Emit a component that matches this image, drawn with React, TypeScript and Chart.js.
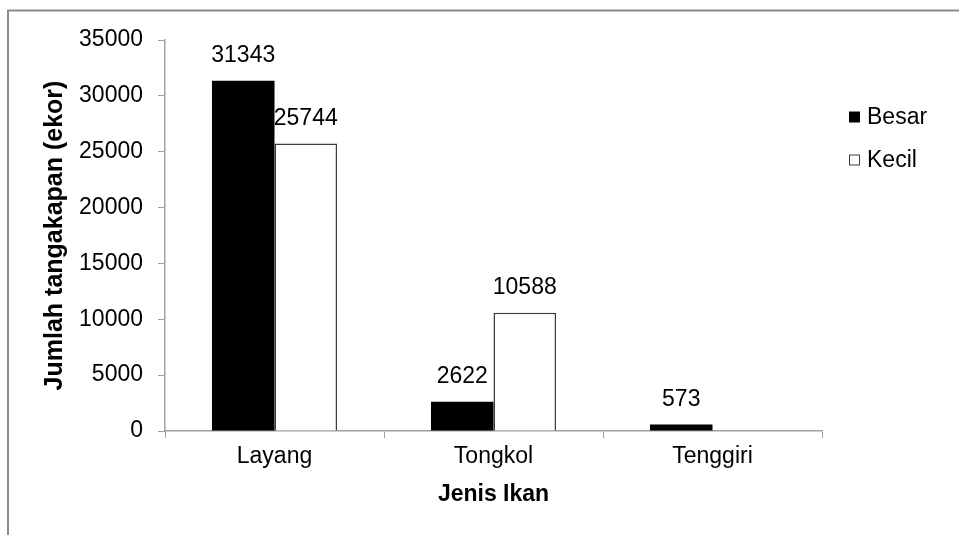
import React, { useEffect, useRef } from "react";
import { Chart, registerables } from "chart.js";

Chart.register(...registerables);

const categories = ["Layang", "Tongkol", "Tenggiri"];
const besarValues: (number | null)[] = [31343, 2622, 573];
const kecilValues: (number | null)[] = [25744, 10588, null];
const seriesNames = ["Besar", "Kecil"];
const yTicks = { min: 0, max: 35000, step: 5000 };

const FONT = "'Liberation Sans', Arial, sans-serif";

const framePlugin = {
  id: "frame",
  beforeDraw(chart: any) {
    const ctx = chart.ctx;
    ctx.save();
    ctx.fillStyle = "#ffffff";
    ctx.fillRect(0, 0, chart.width, chart.height);
    ctx.strokeStyle = "#8a8a8a";
    ctx.lineWidth = 2;
    ctx.beginPath();
    ctx.moveTo(chart.width, 10.5);
    ctx.lineTo(8, 10.5);
    ctx.lineTo(8, chart.height);
    ctx.stroke();
    ctx.restore();
  },
};

const valueLabelPlugin = {
  id: "valueLabels",
  afterDatasetsDraw(chart: any) {
    const ctx = chart.ctx;
    ctx.save();
    ctx.font = `23px ${FONT}`;
    ctx.fillStyle = "#000";
    ctx.textAlign = "center";
    ctx.textBaseline = "middle";
    chart.data.datasets.forEach((ds: any, i: number) => {
      const meta = chart.getDatasetMeta(i);
      meta.data.forEach((el: any, j: number) => {
        const v = ds.data[j];
        if (v === null || v === undefined) return;
        ctx.fillText(String(v), el.x, el.y - 25);
      });
    });
    ctx.restore();
  },
};

const legendPlugin = {
  id: "customLegend",
  afterDraw(chart: any) {
    const ctx = chart.ctx;
    const x = chart.chartArea.right + 27;
    const ys = [117, 160];
    ctx.save();
    ctx.font = `23px ${FONT}`;
    ctx.textBaseline = "middle";
    ctx.textAlign = "left";
    chart.data.datasets.forEach((ds: any, i: number) => {
      const y = ys[i];
      ctx.fillStyle = ds.backgroundColor;
      ctx.fillRect(x, y - 5.5, 11, 11);
      if (ds.borderWidth) {
        ctx.strokeStyle = ds.borderColor;
        ctx.lineWidth = 1;
        ctx.strokeRect(x + 0.5, y - 5, 10, 10);
      }
      ctx.fillStyle = "#000";
      ctx.fillText(ds.label, x + 18, y + 1);
    });
    ctx.restore();
  },
};

export default function App() {
  const ref = useRef<HTMLCanvasElement | null>(null);
  useEffect(() => {
    if (!ref.current) return;
    const chart = new Chart(ref.current, {
      type: "bar",
      data: {
        labels: categories,
        datasets: [
          {
            label: seriesNames[0],
            data: besarValues,
            backgroundColor: "#000000",
            borderWidth: 0,
          },
          {
            label: seriesNames[1],
            data: kecilValues,
            backgroundColor: "#ffffff",
            borderColor: "#3c3c3c",
            borderWidth: 1.5,
          },
        ],
      },
      options: {
        responsive: false,
        animation: false,
        maintainAspectRatio: false,
        layout: { padding: { left: 0, right: 137, top: 40, bottom: 0 } },
        datasets: { bar: { categoryPercentage: 0.571, barPercentage: 1 } },
        plugins: {
          legend: { display: false },
          tooltip: { enabled: false },
        },
        scales: {
          x: {
            afterFit: (s: any) => {
              s.height = 104;
            },
            grid: {
              drawOnChartArea: false,
              drawTicks: true,
              tickLength: 7,
              color: "#a0a0a0",
              offset: true,
            },
            border: { color: "#a0a0a0", width: 1.5 },
            ticks: {
              color: "#000",
              padding: 5,
              font: { family: FONT, size: 23 },
            },
            title: {
              display: true,
              text: "Jenis Ikan",
              color: "#000",
              font: { family: FONT, size: 23, weight: "bold" },
              padding: { top: 0, bottom: 27 },
            },
          },
          y: {
            min: yTicks.min,
            max: yTicks.max,
            afterFit: (s: any) => {
              s.width = 165;
            },
            grid: {
              drawOnChartArea: false,
              drawTicks: true,
              tickLength: 7,
              color: "#a0a0a0",
            },
            border: { color: "#a0a0a0", width: 1.5 },
            ticks: {
              stepSize: yTicks.step,
              color: "#000",
              padding: 15,
              font: { family: FONT, size: 23 },
              callback: (v: any) => String(v),
            },
            title: {
              display: true,
              text: "Jumlah tangakapan (ekor)",
              color: "#000",
              font: { family: FONT, size: 25, weight: "bold" },
              padding: { top: 40, bottom: 0 },
            },
          },
        },
      },
      plugins: [framePlugin, valueLabelPlugin, legendPlugin],
    });
    return () => chart.destroy();
  }, []);
  return (
    <div style={{ position: "absolute", left: 0, top: 0, width: 959, height: 535 }}>
      <canvas ref={ref} width={959} height={535} style={{ display: "block" }} />
    </div>
  );
}
